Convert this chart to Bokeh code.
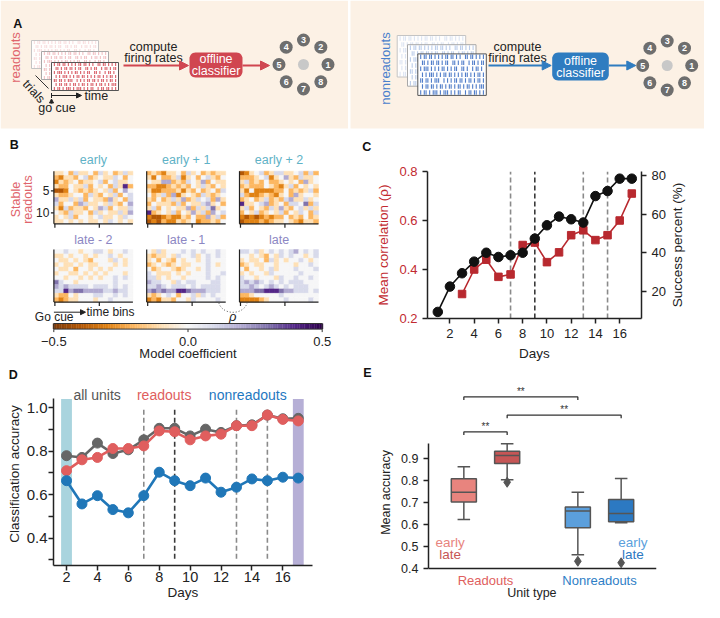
import numpy as np
from bokeh.plotting import figure
from bokeh.layouts import column, row
from bokeh.models import (Range1d, LinearAxis, FixedTicker, Arrow, NormalHead,
                          LinearColorMapper, ColumnDataSource, PrintfTickFormatter)
from bokeh.core.properties import value
from bokeh.embed import file_html
from bokeh.resources import INLINE

FONT = "Liberation Sans"

# ---------------- data ----------------
# Panel B: model coefficients, 12 stable readouts x 16 time bins
# level characters 0..A  ->  -0.5 .. +0.5
LEVELS = "0123456789A"
B_TITLES = ["early", "early + 1", "early + 2", "late - 2", "late - 1", "late"]
hm_early = ["4453644536453464", "3244356345446535", "2434534456356445", "4335446354536493",
            "1125434345463575", "4334553643546356", "7446463544374536", "6355376445464357",
            "4263443547635446", "5436445364544647", "4546355456445465", "4454545445465454"]
hm_early1 = ["3432445364534344", "4253346245356435", "5447734365473544", "3322343435464354",
             "4223334243534536", "5346372454364345", "4353464734656374", "3544436354467453",
             "4635454473646845", "9345463547463756", "2112322435337463", "1213224345233435"]
hm_early2 = ["1245634664456363", "3334562457436445", "4634353345453745", "3433354324635454",
             "4252222335343463", "6322343245374554", "3453463436744645", "9445673453665836",
             "4635436474356464", "3546345463546536", "2121232335343534", "1222323445432443"]
hm_late2 = ["5565545566545565", "4454554545565455", "5445454355546545", "4544545445554545",
            "5445355454545555", "4554454545455545", "5545545454556565", "8655455555556555",
            "7676666566656565", "6697887777667665", "4335455566556565", "3234455545565555"]
hm_late1 = ["5464555656565565", "4344546556456565", "4535435455456555", "3454345445556545",
            "5345543455456555", "6544454545556556", "6645455455556565", "7665546566555665",
            "6676566656566665", "7878779987776665", "4345653556465655", "2324435546555565"]
hm_late = ["6656456565675656", "5545435465655456", "4544536454556545", "3454455455545565",
           "5355456455565556", "4545546555556555", "6554555465565565", "6767656565666555",
           "6676567656566655", "7778899987766656", "3345555565555555", "2222345556555565"]
HEATMAPS = [hm_early, hm_early1, hm_early2, hm_late2, hm_late1, hm_late]
B_YTICKS = [5, 10]
CB_TICKS = [-0.5, 0.0, 0.5]
CB_LABELS = ["\u22120.5", "0.0", "0.5"]

# Panel C
c_days_corr = [3, 4, 5, 6, 7, 8, 9, 10, 11, 12, 13, 14, 15, 16, 17]
c_corr = [0.30, 0.40, 0.44, 0.37, 0.38, 0.50, 0.51, 0.43, 0.47, 0.54, 0.56, 0.52, 0.54, 0.60, 0.71]
c_days_succ = [1, 2, 3, 4, 5, 6, 7, 8, 9, 10, 11, 12, 13, 14, 15, 16, 17]
c_succ = [9.4, 22.5, 29.4, 35.4, 40.0, 37.8, 38.7, 40.0, 47.3, 54.2, 58.7, 57.3, 55.6,
          69.3, 71.9, 78.3, 78.3]
c_vlines = [7, 9, 13, 15]
c_vline_colors = ["#8a8a8a", "#3a3a3a", "#8a8a8a", "#8a8a8a"]
c_xticks = [2, 4, 6, 8, 10, 12, 14, 16]
c_yticks = [0.2, 0.4, 0.6, 0.8]
c_y2ticks = [20, 40, 60, 80]

# Panel D
d_days = [2, 3, 4, 5, 6, 7, 8, 9, 10, 11, 12, 13, 14, 15, 16, 17]
d_all = [0.779, 0.771, 0.837, 0.789, 0.806, 0.852, 0.905, 0.905, 0.870, 0.901, 0.886,
         0.917, 0.921, 0.966, 0.949, 0.951]
d_read = [0.710, 0.760, 0.771, 0.812, 0.812, 0.824, 0.893, 0.889, 0.852, 0.870, 0.878,
          0.917, 0.917, 0.966, 0.946, 0.939]
d_non = [0.664, 0.557, 0.595, 0.531, 0.516, 0.595, 0.703, 0.664, 0.641, 0.676, 0.611,
         0.634, 0.672, 0.664, 0.680, 0.676]
d_all_err = [0.008, 0.008, 0.014, 0.010, 0.010, 0.012, 0.010, 0.010, 0.010, 0.010, 0.010,
             0.010, 0.010, 0.010, 0.010, 0.010]
d_read_err = [0.012, 0.012, 0.015, 0.012, 0.015, 0.015, 0.012, 0.012, 0.012, 0.012, 0.012,
              0.012, 0.012, 0.012, 0.012, 0.012]
d_non_err = [0.020, 0.020, 0.020, 0.018, 0.018, 0.022, 0.020, 0.020, 0.020, 0.022, 0.018,
             0.018, 0.018, 0.018, 0.016, 0.018]
d_vlines = [7, 9, 13, 15]
d_vline_colors = ["#8a8a8a", "#3a3a3a", "#8a8a8a", "#8a8a8a"]
d_bands = [2, 17]
d_band_colors = ["#a9d4de", "#b6afd6"]
d_xticks = [2, 4, 6, 8, 10, 12, 14, 16]
d_yticks = [0.4, 0.6, 0.8, 1.0]
d_yminor = [0.3, 0.5, 0.7, 0.9]
d_legend = ["all units", "readouts", "nonreadouts"]

# Panel E
e_groups = ["Readouts", "Nonreadouts"]
e_hues = ["early", "late"]
# whisker low, q1, median, q3, whisker high
e_read_early = [0.623, 0.702, 0.747, 0.808, 0.862]
e_read_late = [0.803, 0.877, 0.914, 0.933, 0.967]
e_non_early = [0.462, 0.585, 0.661, 0.680, 0.747]
e_non_late = [0.608, 0.612, 0.650, 0.714, 0.809]
e_outliers = [[], [0.792], [0.433], [0.426]]
e_sig = [(0, 1, 1.021), (1, 3, 1.097), (0, 2, 1.180)]
e_yticks = [0.4, 0.5, 0.6, 0.7, 0.8, 0.9]

# ---------------- colours ----------------
PEACH = "#fcf1e5"
RED_A = "#d04650"
RED_TXT = "#e0646c"
BLUE_A = "#2f7cc0"
BLUE_TXT = "#4a80cc"
C_RED = "#b8292f"
C_RED_TXT = "#c22a30"
D_GRAY = "#666666"
D_RED = "#e05e5e"
D_BLUE = "#2077b8"
E_COLORS = ["#e8847e", "#c65656", "#5b9fdc", "#2c79c2"]
EARLY_COL = "#5fb2c6"
LATE_COL = "#8c87c3"
PUOR = ['#7f3b08', '#b35806', '#e08214', '#fdb863', '#fee0b6', '#f7f7f7',
        '#d8daeb', '#b2abd2', '#8073ac', '#542788', '#2d004b']


def interp_palette(anchors, n=256):
    rgb = np.array([[int(c[i:i + 2], 16) for i in (1, 3, 5)] for c in anchors], float)
    t = np.linspace(0, 1, len(anchors))
    out = []
    for v in np.linspace(0, 1, n):
        r, g, b = (np.interp(v, t, rgb[:, k]) for k in range(3))
        out.append("#%02x%02x%02x" % (int(round(r)), int(round(g)), int(round(b))))
    return out


PAL = interp_palette(PUOR)


def T(p, x, y, s, size, color="#222222", align="center", baseline="middle",
      angle=0.0, style="normal"):
    p.text(x=[x], y=[y], text=[s], text_font=value(FONT),
           text_font_size=value(f"{size}px"), text_color=color,
           text_align=align, text_baseline=baseline, angle=angle,
           text_font_style=style)


def finish(p):
    p.outline_line_color = None
    p.background_fill_color = "white"
    p.border_fill_color = "white"
    p.xgrid.visible = False
    p.ygrid.visible = False
    if "frame_align" in p.properties():
        p.frame_align = False
    return p


def blank(w, h):
    p = figure(width=w, height=h, x_range=Range1d(0, w), y_range=Range1d(h, 0),
               toolbar_location=None, output_backend="svg", title=None,
               x_axis_location=None, y_axis_location=None, min_border=0)
    return finish(p)


def rounded_rect(x0, y0, x1, y1, r, n=8):
    xs, ys = [], []
    for cx, cy, a0 in [(x1 - r, y0 + r, -90), (x1 - r, y1 - r, 0),
                       (x0 + r, y1 - r, 90), (x0 + r, y0 + r, 180)]:
        for t in np.linspace(a0, a0 + 90, n):
            xs.append(cx + r * np.cos(np.radians(t)))
            ys.append(cy + r * np.sin(np.radians(t)))
    return xs, ys


# ================= Panel A =================
SPIKES = [
    "|.||.||.|.|.|.||.||.|.|..||.||.|.|.|",
    ".||.|.||.||.|.||..||.|.||..|.||.|.||",
    "|.|||.|.|.|.||.|.|.||..||.|..|.||.|.",
    ".|.|.|||.|.|.||.||.|.|.|.||.|.|.||.|",
    "||.||.|.|||..|.|.|.||.||.|.||.|.||.|",
    ".|.||.||.|.||.|.||.|.||.|.||.|.|.|||",
    "|.||.|.|||.|.|||.|.|.||..|.||.||.|.|",
]

pa = blank(704, 130)
pa.quad(left=[0, 350], right=[347.5, 704], top=[0, 0], bottom=[128, 128],
        fill_color=PEACH, line_color=None)


def raster(p, x0, y0, w, h, dx, dy, color):
    alphas = [0.18, 0.35, 0.9]
    edges = ["#c4c4c4", "#a8a8a8", "#555555"]
    for k, a in enumerate(alphas):
        bx, by = x0 + k * dx, y0 + k * dy
        p.quad(left=[bx], right=[bx + w], top=[by], bottom=[by + h],
               fill_color="white", fill_alpha=0.92, line_color=edges[k], line_width=1)
        xs, y0s, y1s = [], [], []
        rh = h / len(SPIKES)
        for i, rs in enumerate(SPIKES):
            n = len(rs)
            for j, chh in enumerate(rs):
                if chh == "|":
                    xx = bx + 2 + (j + 0.5) * (w - 4) / n
                    xs.append(xx)
                    y0s.append(by + (i + 0.12) * rh)
                    y1s.append(by + (i + 0.88) * rh)
        p.segment(x0=xs, y0=y0s, x1=xs, y1=y1s, line_color=color, line_alpha=a,
                  line_width=1.1)


def targets(p, cx, cy):
    p.scatter([cx], [cy], size=11, marker="circle", fill_color="#c8c8c8", line_color=None)
    r = 24.5
    xs, ys, labs = [], [], []
    for k in range(8):
        th = np.radians(45 * k)
        xs.append(cx + r * np.cos(th))
        ys.append(cy - r * np.sin(th))
        labs.append(str(k + 1))
    p.scatter(xs, ys, size=13, marker="circle", fill_color="#6e6e6e", line_color=None)
    p.text(x=xs, y=ys, text=labs, text_font=value(FONT), text_font_size=value("9px"),
           text_color="white", text_align="center", text_baseline="middle",
           text_font_style="bold")


def pipeline(p, ax0, ay, bx0, bx1, by0, by1, color, tx):
    p.add_layout(Arrow(end=NormalHead(size=9, fill_color=color, line_color=color),
                       x_start=ax0, y_start=ay, x_end=bx0 - 1, y_end=ay,
                       line_color=color, line_width=2.2))
    xs, ys = rounded_rect(bx0, by0, bx1, by1, 6)
    p.patch(xs, ys, fill_color=color, line_color=None)
    cxm = (bx0 + bx1) / 2
    ym = (by0 + by1) / 2
    T(p, cxm, ym - 6, "offline", 12.5, "white")
    T(p, cxm, ym + 6, "classifier", 12.5, "white")
    p.add_layout(Arrow(end=NormalHead(size=9, fill_color=color, line_color=color),
                       x_start=bx1, y_start=ay, x_end=bx1 + 27, y_end=ay,
                       line_color=color, line_width=2.2))
    T(p, tx, 46, "compute", 12.5)
    T(p, tx, 57.5, "firing rates", 12.5)


# left half
T(pa, 12.7, 23.5, "A", 12.5, "#111111", align="left", style="bold")
T(pa, 15, 57, "readouts", 13, RED_TXT, angle=np.pi / 2)
raster(pa, 31, 40, 67, 28, 10, 11, "#d6505a")
pa.segment(x0=[35], y0=[75], x1=[48], y1=[88], line_color="#333333", line_width=1)
T(pa, 33.3, 91, "trials", 12.5, angle=-0.83)
pa.add_layout(Arrow(end=NormalHead(size=5, fill_color="#222222", line_color="#222222"),
                    x_start=51, y_start=95, x_end=81, y_end=95, line_color="#222222",
                    line_width=1))
pa.segment(x0=[51], y0=[92.5], x1=[51], y1=[97.5], line_color="#222222", line_width=1)
pa.add_layout(Arrow(end=NormalHead(size=4, fill_color="#222222", line_color="#222222"),
                    x_start=51, y_start=103, x_end=51, y_end=98.5, line_color="#222222",
                    line_width=1))
T(pa, 84, 95, "time", 12.5, align="left")
T(pa, 56.5, 107.5, "go cue", 12.5)
pipeline(pa, 123, 65, 189, 242, 52, 77, RED_A, 153)
targets(pa, 303, 64)

# right half
T(pa, 385, 68, "nonreadouts", 13, BLUE_TXT, angle=np.pi / 2)
raster(pa, 396.7, 35, 68.5, 41.5, 10.3, 9.2, "#3d6fc3")
pipeline(pa, 488, 65, 551.7, 608.3, 52, 80, BLUE_A, 517)
targets(pa, 666.7, 65)

# ================= Panel B =================
pb = blank(372, 252)
mapper = LinearColorMapper(palette=PAL, low=-0.5, high=0.5)
HX0, HDX, HW, HH = 53.4, 92.8, 79.0, 52.6
HY0 = [40.7, 119.0]
TITLE_Y = [29.0, 109.7]
nr, nc = len(hm_early), len(hm_early[0])
cw, chh = HW / nc, HH / nr
xs, ys, vs = [], [], []
for k, hm in enumerate(HEATMAPS):
    x0 = HX0 + (k % 3) * HDX
    y0 = HY0[k // 3]
    for i, rs in enumerate(hm):
        for j, cc in enumerate(rs):
            xs.append(x0 + (j + 0.5) * cw)
            ys.append(y0 + (i + 0.5) * chh)
            vs.append((LEVELS.index(cc) - 5) / 10.0)
hsrc = ColumnDataSource(dict(x=xs, y=ys, v=vs))
pb.rect(x="x", y="y", width=cw, height=chh, source=hsrc,
        fill_color={"field": "v", "transform": mapper},
        line_color={"field": "v", "transform": mapper}, line_width=0.5)

for k in range(6):
    x0 = HX0 + (k % 3) * HDX
    y0 = HY0[k // 3]
    pb.segment(x0=[x0, x0], y0=[y0, y0 + HH], x1=[x0, x0 + HW], y1=[y0 + HH, y0 + HH],
               line_color="#222222", line_width=1.2)
    tx = [x0 + 0.2 * cw, x0 + 9.2 * cw]
    pb.segment(x0=tx, y0=[y0 + HH] * 2, x1=tx, y1=[y0 + HH + 4] * 2,
               line_color="#222222", line_width=1.2)
    col = EARLY_COL if k < 3 else LATE_COL
    T(pb, x0 + HW / 2, TITLE_Y[k // 3], B_TITLES[k], 12.5, col)

for t in B_YTICKS:
    yy = HY0[0] + (t - 0.5) * chh
    pb.segment(x0=[HX0 - 3], y0=[yy], x1=[HX0], y1=[yy], line_color="#222222",
               line_width=1.2)
    T(pb, HX0 - 4.5, yy, str(t), 12, align="right")

T(pb, 15, 69, "Stable", 12.5, RED_TXT, angle=np.pi / 2)
T(pb, 27, 69, "readouts", 12.5, RED_TXT, angle=np.pi / 2)

# go cue / time bins
pb.add_layout(Arrow(end=NormalHead(size=5, fill_color="#222222", line_color="#222222"),
                    x_start=HX0, y_start=181.7, x_end=85, y_end=181.7,
                    line_color="#222222", line_width=1))
T(pb, 53.7, 186, "Go cue", 12)
T(pb, 86, 181.7, "time bins", 12, align="left")
pb.bezier(x0=[218.3], y0=[172.3], x1=[246.7], y1=[172.3], cx0=[222], cy0=[185],
          cx1=[243], cy1=[185], line_color="#555555", line_dash="1 2", line_width=1)
T(pb, 232.3, 186, "\u03c1", 13, style="italic")

# colour bar
CBX0, CBW, CBY0, CBH = 53.3, 268.4, 193.0, 5.6
cbv = np.linspace(-0.5, 0.5, 160)
cbsrc = ColumnDataSource(dict(x=CBX0 + (cbv + 0.5) * CBW, v=cbv))
pb.rect(x="x", y=CBY0 + CBH / 2, width=CBW / 159 + 0.3, height=CBH, source=cbsrc,
        fill_color={"field": "v", "transform": mapper}, line_color=None)
pb.quad(left=[CBX0], right=[CBX0 + CBW], top=[CBY0], bottom=[CBY0 + CBH],
        fill_color=None, line_color="#333333", line_width=1)
cbx = [CBX0 + (t + 0.5) * CBW for t in CB_TICKS]
pb.segment(x0=cbx, y0=[CBY0 + CBH] * 3, x1=cbx, y1=[CBY0 + CBH + 3] * 3,
           line_color="#333333", line_width=1)
pb.text(x=cbx, y=[211] * 3, text=CB_LABELS, text_font=value(FONT),
        text_font_size=value("13px"), text_color="#222222", text_align="center",
        text_baseline="middle")
T(pb, CBX0 + CBW / 2, 223, "Model coefficient", 13)

# panel letters hosted here
T(pb, 9.3, 14, "B", 12.5, "#111111", align="left", style="bold")
T(pb, 361.7, 16, "C", 12.5, "#111111", align="left", style="bold")
T(pb, 8.3, 244, "D", 12.5, "#111111", align="left", style="bold")
T(pb, 362.7, 242, "E", 12.5, "#111111", align="left", style="bold")


# ================= axis style =================
def style_axis(ax, size, color="#222222", lsize="13px", lcolor="#222222",
               standoff=5, lstandoff=5):
    ax.axis_line_color = "#222222"
    ax.axis_line_width = 1.5
    ax.major_tick_line_color = "#222222"
    ax.major_tick_line_width = 1.5
    ax.major_tick_out = 5
    ax.major_tick_in = 0
    ax.minor_tick_line_color = None
    ax.major_label_text_font = FONT
    ax.major_label_text_font_size = size
    ax.major_label_text_color = color
    ax.major_label_standoff = standoff
    ax.axis_label_text_font = FONT
    ax.axis_label_text_font_size = lsize
    ax.axis_label_text_font_style = "normal"
    ax.axis_label_text_color = lcolor
    ax.axis_label_standoff = lstandoff


def plotfig(w, h, xr, yr, ml, mr, mt, mb):
    p = figure(width=w, height=h, x_range=Range1d(*xr), y_range=Range1d(*yr),
               toolbar_location=None, output_backend="svg", title=None,
               x_axis_location=None, y_axis_location=None,
               min_border_left=ml, min_border_right=mr, min_border_top=mt,
               min_border_bottom=mb)
    return finish(p)


# ================= Panel C =================
pc = plotfig(296, 252, (0.15, 17.8), (0.2, 0.8), 55, 27, 41, 64)
pc.extra_y_ranges = {"pct": Range1d(6, 82)}
axb = LinearAxis(ticker=FixedTicker(ticks=c_xticks), axis_label="Days")
style_axis(axb, "13px", lsize="13.5px")
pc.add_layout(axb, "below")
axl = LinearAxis(ticker=FixedTicker(ticks=c_yticks), axis_label="Mean correlation (\u03c1)",
                 formatter=PrintfTickFormatter(format="%.1f"))
style_axis(axl, "13px", color=C_RED_TXT, lsize="13.5px", lcolor=C_RED_TXT)
pc.add_layout(axl, "left")
axr = LinearAxis(y_range_name="pct", ticker=FixedTicker(ticks=c_y2ticks))
style_axis(axr, "13px")
pc.add_layout(axr, "right")

pc.segment(x0=c_vlines, y0=[0.2] * 4, x1=c_vlines, y1=[0.8] * 4,
           line_color=c_vline_colors, line_width=1.6, line_dash="5 3")
pc.line(c_days_corr, c_corr, line_color=C_RED, line_width=1.6)
pc.scatter(c_days_corr, c_corr, marker="square", size=7.5, fill_color=C_RED,
           line_color=C_RED)
pc.line(c_days_succ, c_succ, line_color="#111111", line_width=1.6, y_range_name="pct")
pc.scatter(c_days_succ, c_succ, marker="circle", size=9.5, fill_color="#111111",
           line_color="#111111", y_range_name="pct")

# right-hand axis title of panel C (reads bottom to top)
pcl = blank(36, 252)
T(pcl, 9, 114.5, "Success percent (%)", 13.5, angle=np.pi / 2)

# ================= Panel D =================
pdd = plotfig(372, 220, (1.1575, 17.92), (0.2737, 1.1158), 53, 60, 0, 36)
dxa = LinearAxis(ticker=FixedTicker(ticks=d_xticks), axis_label="Days")
style_axis(dxa, "14.5px", lsize="13.5px", standoff=1, lstandoff=0)
pdd.add_layout(dxa, "below")
dya = LinearAxis(ticker=FixedTicker(ticks=d_yticks, minor_ticks=d_yminor),
                 axis_label="Classification accuracy", bounds=(0.2737, 1.04),
                 formatter=PrintfTickFormatter(format="%.1f"))
style_axis(dya, "15px", lsize="13.5px", standoff=1, lstandoff=2)
dya.minor_tick_line_color = "#222222"
dya.minor_tick_line_width = 1.5
dya.minor_tick_out = 5
dya.minor_tick_in = 0
pdd.add_layout(dya, "left")

pdd.quad(left=[b - 0.35 for b in d_bands], right=[b + 0.35 for b in d_bands],
         bottom=[0.2737] * 2, top=[1.04] * 2, fill_color=d_band_colors, line_color=None)
pdd.segment(x0=d_vlines, y0=[0.305] * 4, x1=d_vlines, y1=[1.0] * 4,
            line_color=d_vline_colors, line_width=1.6, line_dash="5 3")
for ys_, er, col in [(d_all, d_all_err, D_GRAY), (d_read, d_read_err, D_RED),
                     (d_non, d_non_err, D_BLUE)]:
    lo = [a - b for a, b in zip(ys_, er)]
    hi = [a + b for a, b in zip(ys_, er)]
    pdd.segment(x0=d_days, y0=lo, x1=d_days, y1=hi, line_color=col, line_width=2)
    pdd.line(d_days, ys_, line_color=col, line_width=2.6)
    pdd.scatter(d_days, ys_, marker="circle", size=10, fill_color=col, line_color=col)

pdd.text(x=[3.98, 8.32, 13.73], y=[1.056] * 3, text=d_legend,
         text_font=value(FONT), text_font_size=value("14px"),
         text_color=["#555555", D_RED, "#1f78c1"], text_align="center",
         text_baseline="middle")

# ================= Panel E =================
pe = plotfig(332, 220, (-0.5, 1.5), (0.24545, 1.2455), 56, 48, 0, 0)
eya = LinearAxis(ticker=FixedTicker(ticks=e_yticks), axis_label="Mean accuracy",
                 bounds=(0.4, 0.97), formatter=PrintfTickFormatter(format="%.1f"))
style_axis(eya, "12.5px", lsize="12.5px")
pe.add_layout(eya, "left")
# bottom spine at y = 0.4
pe.segment(x0=[-0.5], y0=[0.4], x1=[1.5], y1=[0.4], line_color="#222222", line_width=1.5)

E_POS = [-0.19, 0.19, 0.81, 1.19]
E_BOXES = [e_read_early, e_read_late, e_non_early, e_non_late]
BW = 0.22
esrc = ColumnDataSource(dict(
    x=E_POS, lo=[b[0] for b in E_BOXES], q1=[b[1] for b in E_BOXES],
    med=[b[2] for b in E_BOXES], q3=[b[3] for b in E_BOXES], hi=[b[4] for b in E_BOXES],
    l=[x - BW / 2 for x in E_POS], r=[x + BW / 2 for x in E_POS],
    cl=[x - BW / 4 for x in E_POS], cr=[x + BW / 4 for x in E_POS], c=E_COLORS))
EG = "#555555"
pe.segment(x0="x", y0="lo", x1="x", y1="q1", source=esrc, line_color=EG, line_width=1.5)
pe.segment(x0="x", y0="q3", x1="x", y1="hi", source=esrc, line_color=EG, line_width=1.5)
pe.segment(x0="cl", y0="lo", x1="cr", y1="lo", source=esrc, line_color=EG, line_width=1.5)
pe.segment(x0="cl", y0="hi", x1="cr", y1="hi", source=esrc, line_color=EG, line_width=1.5)
pe.quad(left="l", right="r", bottom="q1", top="q3", source=esrc, fill_color="c",
        line_color=EG, line_width=1.5)
pe.segment(x0="l", y0="med", x1="r", y1="med", source=esrc, line_color=EG, line_width=1.5)
ox, oy = [], []
for x, outs in zip(E_POS, e_outliers):
    for o in outs:
        ox.append(x)
        oy.append(o)
pe.scatter(ox, oy, marker="diamond", size=10, fill_color=EG, line_color=EG)

for a, b, h in e_sig:
    xa, xb = E_POS[a], E_POS[b]
    pe.line([xa, xa, xb, xb], [h - 0.014, h, h, h - 0.014], line_color="#333333",
            line_width=1.3)
    T(pe, (xa + xb) / 2, h + 0.024, "**", 10, "#333333")

T(pe, -0.31, 0.5195, e_hues[0], 13.5, E_COLORS[0])
T(pe, -0.31, 0.4636, e_hues[1], 13.5, E_COLORS[1])
T(pe, 1.293, 0.5195, e_hues[0], 13.5, E_COLORS[2])
T(pe, 1.293, 0.4636, e_hues[1], 13.5, E_COLORS[3])
T(pe, 0, 0.3455, e_groups[0], 13, "#e0605e")
T(pe, 1, 0.3455, e_groups[1], 13, "#2e7ec6")
T(pe, 0.407, 0.2895, "Unit type", 12.5)

layout = column(pa, row(pb, pc, pcl), row(pdd, pe))
open("out.html", "w").write(file_html(layout, INLINE))
